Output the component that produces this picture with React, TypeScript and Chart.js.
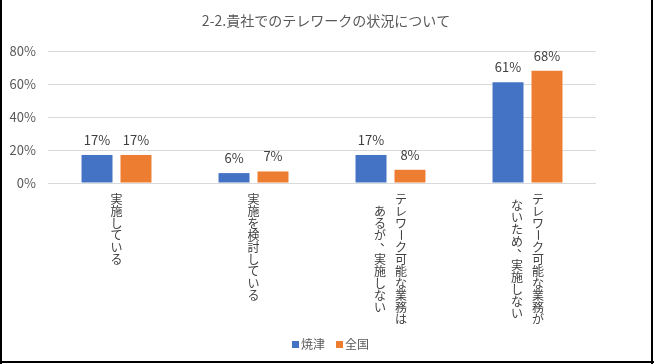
import React, { useEffect, useRef } from "react";
import { Chart, registerables } from "chart.js";

Chart.register(...registerables);

const TITLE = "2-2.貴社でのテレワークの状況について";
const CATEGORIES: string[][] = [
  ["実施している"],
  ["実施を検討している"],
  ["テレワーク可能な業務は", "あるが、実施しない"],
  ["テレワーク可能な業務が", "ないため、実施しない"],
];
const SERIES_NAMES = ["焼津", "全国"];
const YAIZU = [17, 6, 17, 61];
const ZENKOKU = [17, 7, 8, 68];
const COLORS = ["#4472C4", "#ED7D31"];
const Y_TICKS_MAX = 80;
const Y_STEP = 20;

const FONT = "'Noto Sans CJK JP', 'Noto Sans', sans-serif";

const customPlugin = {
  id: "custom",
  beforeDraw(chart: any) {
    const ctx = chart.ctx;
    ctx.save();
    ctx.fillStyle = "#ffffff";
    ctx.fillRect(0, 0, chart.width, chart.height);
    ctx.restore();
  },
  afterDatasetsDraw(chart: any) {
    const ctx = chart.ctx;
    ctx.save();
    ctx.font = `13px ${FONT}`;
    ctx.fillStyle = "#404040";
    ctx.textAlign = "center";
    ctx.textBaseline = "middle";
    chart.data.datasets.forEach((ds: any, di: number) => {
      const meta = chart.getDatasetMeta(di);
      meta.data.forEach((el: any, i: number) => {
        ctx.fillText(`${ds.data[i]}%`, el.x, el.y - 15);
      });
    });
    ctx.restore();
  },
  afterDraw(chart: any) {
    const ctx = chart.ctx;
    const area = chart.chartArea;
    ctx.save();
    // title
    ctx.font = `14px ${FONT}`;
    ctx.fillStyle = "#595959";
    ctx.textAlign = "center";
    ctx.textBaseline = "middle";
    ctx.fillText(TITLE, 326, 21);

    // vertical category labels
    const xScale = chart.scales.x;
    const fs = 12;
    const adv = 12;
    const colGap = 21;
    ctx.font = `${fs}px ${FONT}`;
    ctx.fillStyle = "#404040";
    const labels: string[][] = chart.data.labels;
    labels.forEach((lines, ci) => {
      const cx = xScale.getPixelForTick(ci);
      const n = lines.length;
      const maxLen = Math.max(...lines.map((l) => Array.from(l).length));
      lines.forEach((line, li) => {
        const chars = Array.from(line);
        const x = cx + ((n - 1) / 2) * colGap - li * colGap;
        const y0 = area.bottom + 16 + ((maxLen - chars.length) * adv) / 2;
        chars.forEach((ch, k) => {
          const y = y0 + k * adv;
          if (ch === "ー") {
            ctx.save();
            ctx.translate(x, y);
            ctx.rotate(Math.PI / 2);
            ctx.fillText(ch, 0, 0);
            ctx.restore();
          } else if (ch === "、" || ch === "。") {
            ctx.fillText(ch, x + 6, y - 6);
          } else {
            ctx.fillText(ch, x, y);
          }
        });
      });
    });

    // legend
    ctx.font = `12px ${FONT}`;
    ctx.textAlign = "left";
    ctx.textBaseline = "middle";
    const legendX = [292, 336];
    chart.data.datasets.forEach((ds: any, di: number) => {
      ctx.fillStyle = ds.backgroundColor;
      ctx.fillRect(legendX[di], 341, 7, 7);
      ctx.fillStyle = "#595959";
      ctx.fillText(ds.label, legendX[di] + 9, 344.5);
    });

    // frame
    ctx.fillStyle = "#000000";
    ctx.fillRect(0, 0, 2, chart.height);
    ctx.fillRect(651, 0, 2, chart.height);
    ctx.fillRect(0, 361, chart.width, 2);
    ctx.restore();
  },
};

export default function App() {
  const ref = useRef<HTMLCanvasElement | null>(null);
  useEffect(() => {
    if (!ref.current) return;
    const chart = new Chart(ref.current, {
      type: "bar",
      data: {
        labels: CATEGORIES as any,
        datasets: [
          {
            label: SERIES_NAMES[0],
            data: YAIZU,
            backgroundColor: COLORS[0],
            categoryPercentage: 0.569,
            barPercentage: 0.795,
          },
          {
            label: SERIES_NAMES[1],
            data: ZENKOKU,
            backgroundColor: COLORS[1],
            categoryPercentage: 0.569,
            barPercentage: 0.795,
          },
        ],
      },
      options: {
        responsive: false,
        animation: false,
        devicePixelRatio: 1,
        layout: { padding: { left: 0, right: 58, top: 51, bottom: 0 } },
        plugins: {
          legend: { display: false },
          title: { display: false },
          tooltip: { enabled: false },
        },
        scales: {
          x: {
            grid: { display: false },
            border: { display: false },
            ticks: { display: false },
            afterFit: (s: any) => {
              s.height = 181;
            },
          },
          y: {
            min: 0,
            max: Y_TICKS_MAX,
            ticks: {
              stepSize: Y_STEP,
              padding: 12,
              color: "#595959",
              font: { size: 13, family: FONT },
              callback: (v: any) => `${v}%`,
            },
            grid: { color: "#d9d9d9", drawTicks: false },
            border: { display: false },
            afterFit: (s: any) => {
              s.width = 48;
            },
          },
        },
      },
      plugins: [customPlugin],
    });
    return () => chart.destroy();
  }, []);
  return (
    <div style={{ position: "fixed", left: 0, top: 0, width: 654, height: 364 }}>
      <canvas ref={ref} width={654} height={364} />
    </div>
  );
}
